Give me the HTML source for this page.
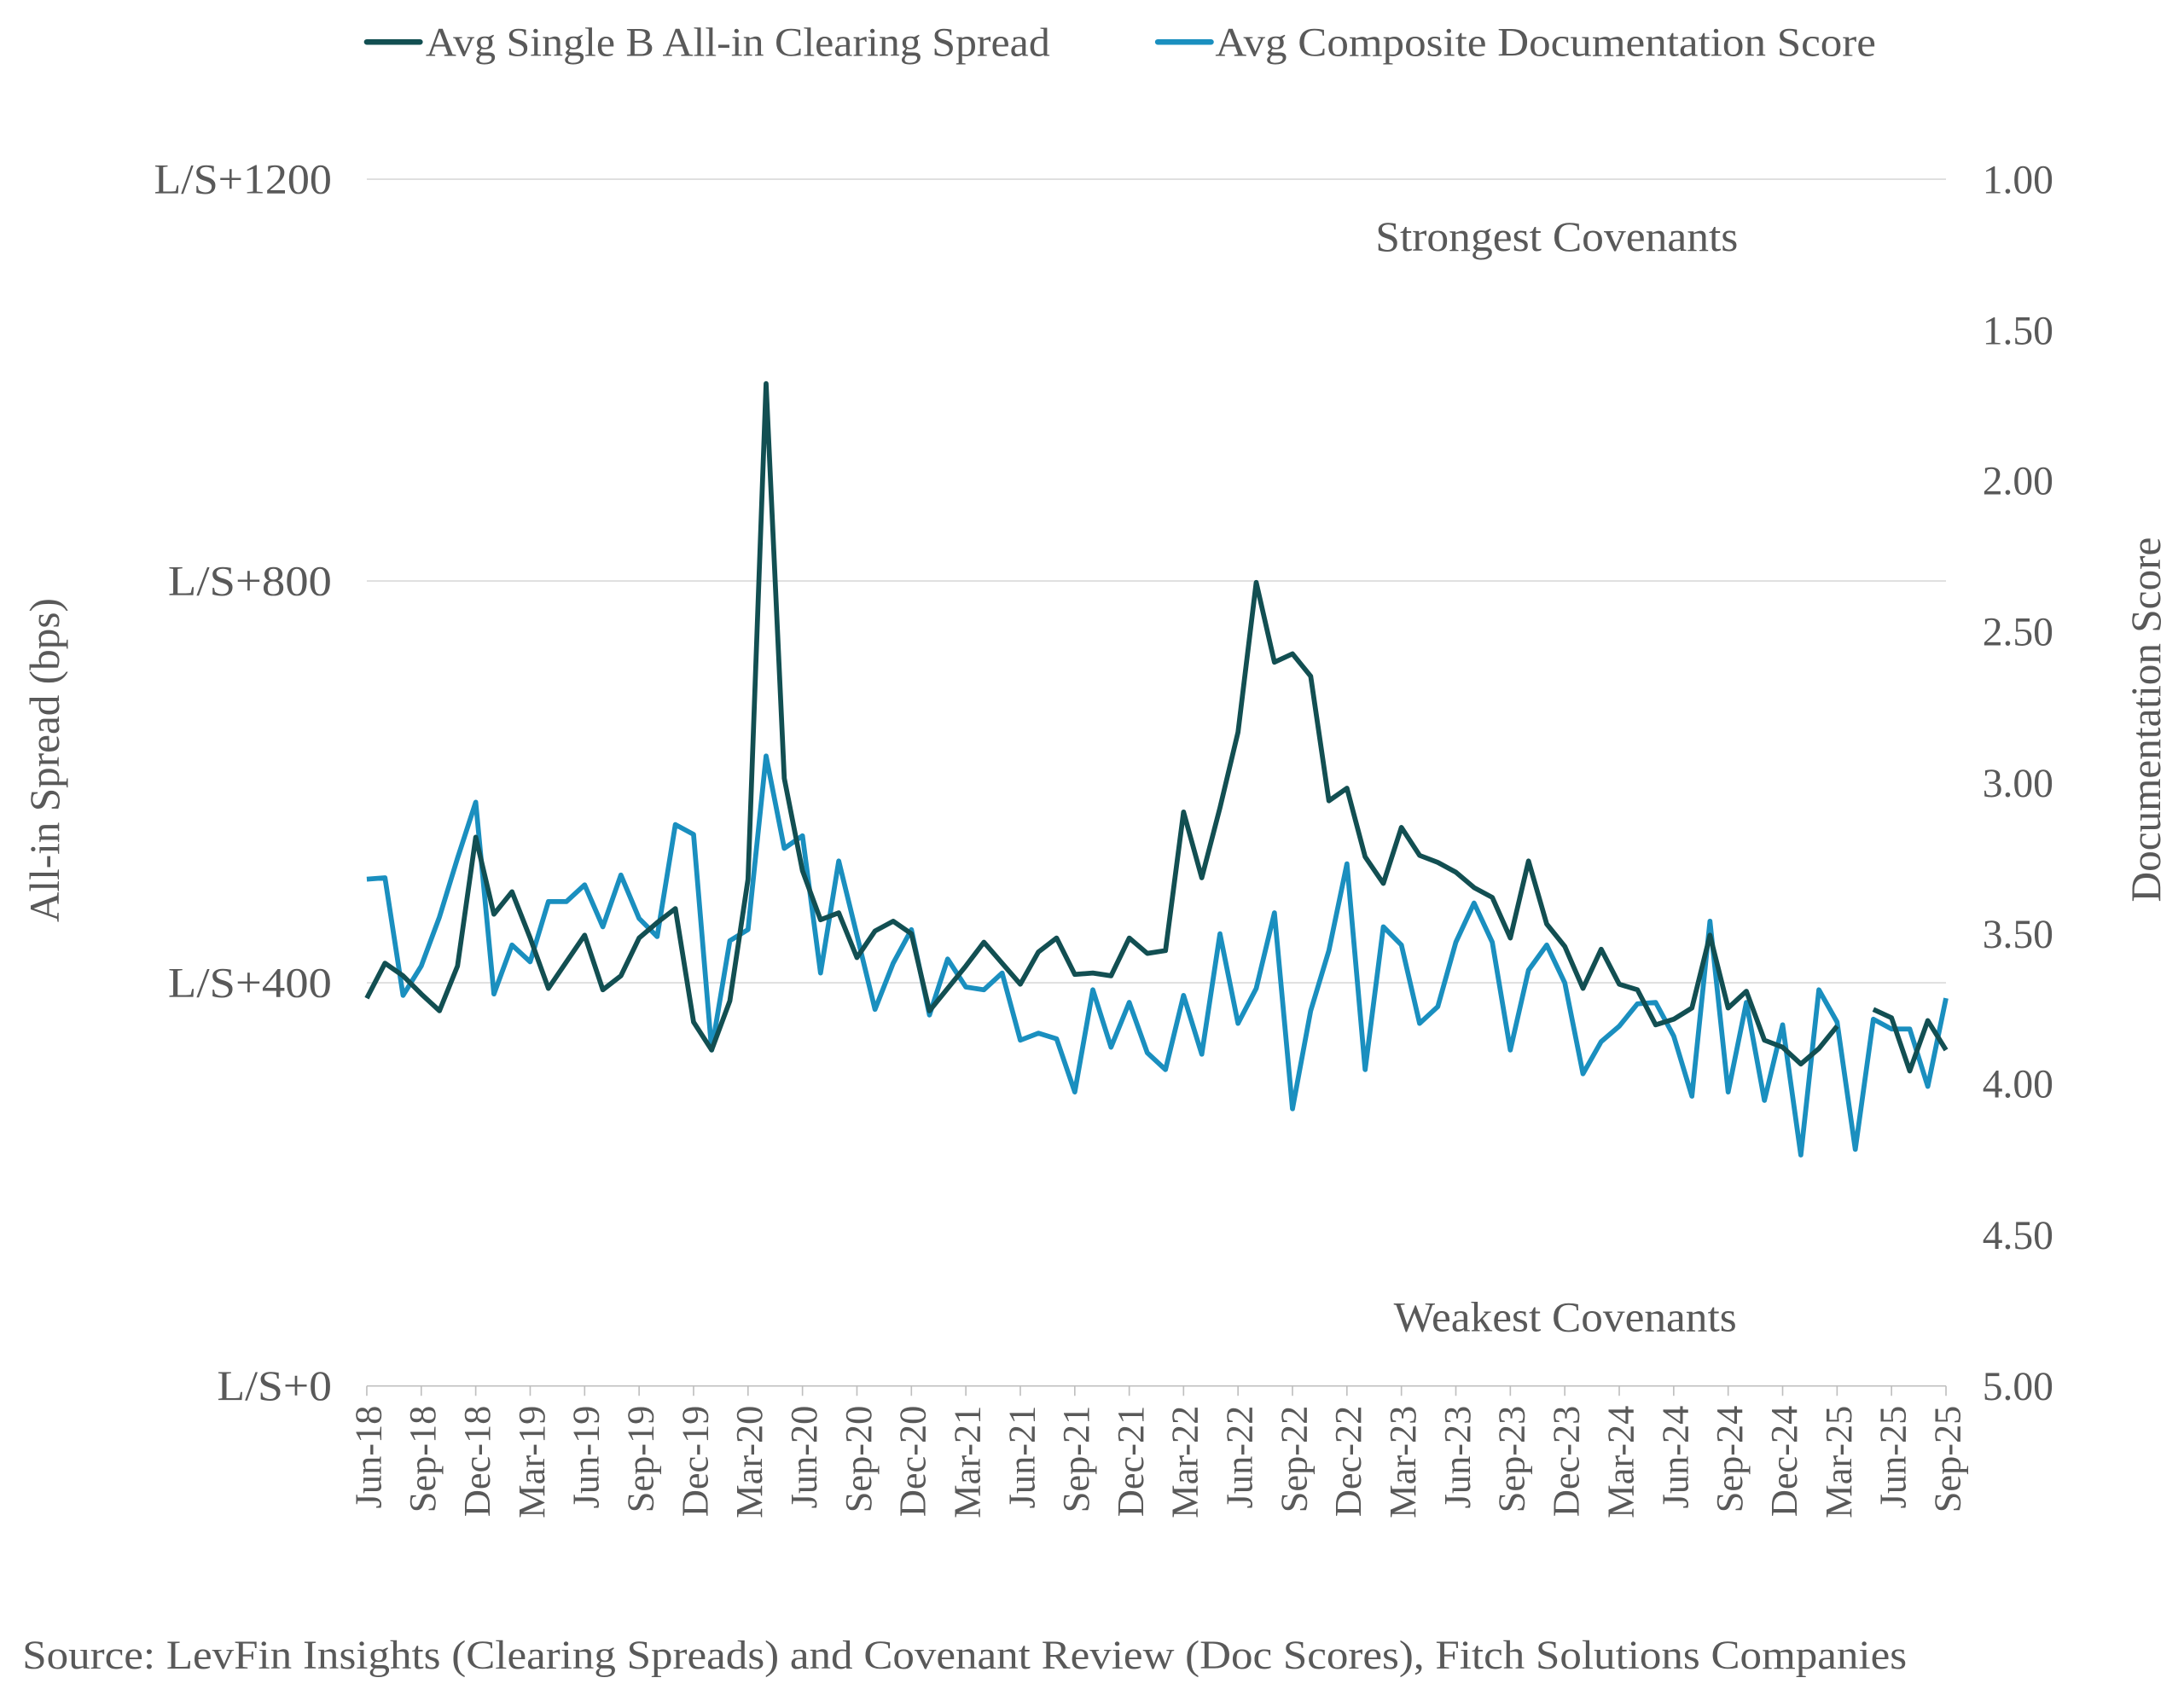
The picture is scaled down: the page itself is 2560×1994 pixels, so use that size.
<!DOCTYPE html>
<html><head><meta charset="utf-8"><style>
html,body{margin:0;padding:0;background:#fff}
svg{display:block}
text{font-family:"Liberation Serif",serif;fill:#595959}
</style></head><body>
<svg width="2560" height="1994" viewBox="0 0 1560 1215" preserveAspectRatio="none" xmlns="http://www.w3.org/2000/svg">
<g stroke="#d9d9d9" stroke-width="1">
<line x1="262" y1="128" x2="1390" y2="128"/>
<line x1="262" y1="415" x2="1390" y2="415"/>
<line x1="262" y1="702" x2="1390" y2="702"/>
</g>
<line x1="262" y1="990" x2="1390" y2="990" stroke="#bfbfbf" stroke-width="1"/>
<g font-size="30" text-anchor="end">
<text x="237" y="138" textLength="127" lengthAdjust="spacingAndGlyphs">L/S+1200</text>
<text x="237" y="425" textLength="117" lengthAdjust="spacingAndGlyphs">L/S+800</text>
<text x="237" y="712" textLength="117" lengthAdjust="spacingAndGlyphs">L/S+400</text>
<text x="237" y="1000" textLength="82" lengthAdjust="spacingAndGlyphs">L/S+0</text>
</g>
<g font-size="29" text-anchor="start">
<text x="1416" y="138">1.00</text>
<text x="1416" y="246">1.50</text>
<text x="1416" y="353">2.00</text>
<text x="1416" y="461">2.50</text>
<text x="1416" y="569">3.00</text>
<text x="1416" y="677">3.50</text>
<text x="1416" y="784">4.00</text>
<text x="1416" y="892">4.50</text>
<text x="1416" y="1000">5.00</text>
</g>
<text x="0" y="0" font-size="30" text-anchor="middle" transform="translate(42,543) rotate(-90)">All-in Spread (bps)</text>
<text x="0" y="0" font-size="30" text-anchor="middle" transform="translate(1543,514) rotate(-90)">Documentation Score</text>
<text x="1112" y="179" font-size="30" text-anchor="middle" textLength="259" lengthAdjust="spacingAndGlyphs">Strongest Covenants</text>
<text x="1118" y="951" font-size="30" text-anchor="middle" textLength="245" lengthAdjust="spacingAndGlyphs">Weakest Covenants</text>
<line x1="262" y1="30" x2="300" y2="30" stroke="#124f52" stroke-width="4" stroke-linecap="round"/>
<text x="304" y="40" font-size="29" textLength="446" lengthAdjust="spacingAndGlyphs">Avg Single B All-in Clearing Spread</text>
<line x1="827" y1="30" x2="865" y2="30" stroke="#1a8fbf" stroke-width="4" stroke-linecap="round"/>
<text x="868" y="40" font-size="29" textLength="472" lengthAdjust="spacingAndGlyphs">Avg Composite Documentation Score</text>
<text x="16" y="1192" font-size="29" textLength="1346" lengthAdjust="spacingAndGlyphs">Source: LevFin Insights (Clearing Spreads) and Covenant Review (Doc Scores), Fitch Solutions Companies</text>
<g stroke="#bfbfbf" stroke-width="1">
<line x1="262" y1="990" x2="262" y2="997"/><line x1="300.9" y1="990" x2="300.9" y2="997"/><line x1="339.8" y1="990" x2="339.8" y2="997"/><line x1="378.7" y1="990" x2="378.7" y2="997"/><line x1="417.6" y1="990" x2="417.6" y2="997"/><line x1="456.5" y1="990" x2="456.5" y2="997"/><line x1="495.4" y1="990" x2="495.4" y2="997"/><line x1="534.3" y1="990" x2="534.3" y2="997"/><line x1="573.2" y1="990" x2="573.2" y2="997"/><line x1="612.1" y1="990" x2="612.1" y2="997"/><line x1="651" y1="990" x2="651" y2="997"/><line x1="689.9" y1="990" x2="689.9" y2="997"/><line x1="728.8" y1="990" x2="728.8" y2="997"/><line x1="767.7" y1="990" x2="767.7" y2="997"/><line x1="806.6" y1="990" x2="806.6" y2="997"/><line x1="845.4" y1="990" x2="845.4" y2="997"/><line x1="884.3" y1="990" x2="884.3" y2="997"/><line x1="923.2" y1="990" x2="923.2" y2="997"/><line x1="962.1" y1="990" x2="962.1" y2="997"/><line x1="1001" y1="990" x2="1001" y2="997"/><line x1="1039.9" y1="990" x2="1039.9" y2="997"/><line x1="1078.8" y1="990" x2="1078.8" y2="997"/><line x1="1117.7" y1="990" x2="1117.7" y2="997"/><line x1="1156.6" y1="990" x2="1156.6" y2="997"/><line x1="1195.5" y1="990" x2="1195.5" y2="997"/><line x1="1234.4" y1="990" x2="1234.4" y2="997"/><line x1="1273.3" y1="990" x2="1273.3" y2="997"/><line x1="1312.2" y1="990" x2="1312.2" y2="997"/><line x1="1351.1" y1="990" x2="1351.1" y2="997"/><line x1="1390" y1="990" x2="1390" y2="997"/>
</g>
<g font-size="27" text-anchor="end">
<text transform="translate(272,1004) rotate(-90)">Jun-18</text>
<text transform="translate(310.9,1004) rotate(-90)">Sep-18</text>
<text transform="translate(349.8,1004) rotate(-90)">Dec-18</text>
<text transform="translate(388.7,1004) rotate(-90)">Mar-19</text>
<text transform="translate(427.6,1004) rotate(-90)">Jun-19</text>
<text transform="translate(466.5,1004) rotate(-90)">Sep-19</text>
<text transform="translate(505.4,1004) rotate(-90)">Dec-19</text>
<text transform="translate(544.3,1004) rotate(-90)">Mar-20</text>
<text transform="translate(583.2,1004) rotate(-90)">Jun-20</text>
<text transform="translate(622.1,1004) rotate(-90)">Sep-20</text>
<text transform="translate(661,1004) rotate(-90)">Dec-20</text>
<text transform="translate(699.9,1004) rotate(-90)">Mar-21</text>
<text transform="translate(738.8,1004) rotate(-90)">Jun-21</text>
<text transform="translate(777.7,1004) rotate(-90)">Sep-21</text>
<text transform="translate(816.6,1004) rotate(-90)">Dec-21</text>
<text transform="translate(855.4,1004) rotate(-90)">Mar-22</text>
<text transform="translate(894.3,1004) rotate(-90)">Jun-22</text>
<text transform="translate(933.2,1004) rotate(-90)">Sep-22</text>
<text transform="translate(972.1,1004) rotate(-90)">Dec-22</text>
<text transform="translate(1011,1004) rotate(-90)">Mar-23</text>
<text transform="translate(1049.9,1004) rotate(-90)">Jun-23</text>
<text transform="translate(1088.8,1004) rotate(-90)">Sep-23</text>
<text transform="translate(1127.7,1004) rotate(-90)">Dec-23</text>
<text transform="translate(1166.6,1004) rotate(-90)">Mar-24</text>
<text transform="translate(1205.5,1004) rotate(-90)">Jun-24</text>
<text transform="translate(1244.4,1004) rotate(-90)">Sep-24</text>
<text transform="translate(1283.3,1004) rotate(-90)">Dec-24</text>
<text transform="translate(1322.2,1004) rotate(-90)">Mar-25</text>
<text transform="translate(1361.1,1004) rotate(-90)">Jun-25</text>
<text transform="translate(1400,1004) rotate(-90)">Sep-25</text>
</g>
<path fill="none" stroke="#1a8fbf" stroke-width="3.5" stroke-linejoin="round" d="M262 628 L275 627 L287.9 711 L300.9 690 L313.9 655 L326.8 613 L339.8 573 L352.8 710 L365.7 675 L378.7 687 L391.7 644 L404.6 644 L417.6 632 L430.6 662 L443.5 625 L456.5 656 L469.4 669 L482.4 589 L495.4 596 L508.3 750 L521.3 672 L534.3 664 L547.2 540 L560.2 606 L573.2 597 L586.1 695 L599.1 615 L612.1 668 L625 721 L638 688 L651 664 L663.9 725 L676.9 685 L689.9 705 L702.8 707 L715.8 695 L728.8 743 L741.7 738 L754.7 742 L767.7 780 L780.6 707 L793.6 748 L806.6 716 L819.5 752 L832.5 764 L845.4 711 L858.4 753 L871.4 667 L884.3 731 L897.3 706 L910.3 652 L923.2 792 L936.2 722 L949.2 679 L962.1 617 L975.1 764 L988.1 662 L1001 675 L1014 731 L1027 719 L1039.9 673 L1052.9 645 L1065.9 673 L1078.8 750 L1091.8 693 L1104.8 675 L1117.7 702 L1130.7 767 L1143.7 744 L1156.6 733 L1169.6 717 L1182.6 716 L1195.5 740 L1208.5 783 L1221.4 658 L1234.4 780 L1247.4 716 L1260.3 786 L1273.3 732 L1286.3 825 L1299.2 707 L1312.2 730 L1325.2 821 L1338.1 728 L1351.1 735 L1364.1 735 L1377 776 L1390 713"/>
<path fill="none" stroke="#124f52" stroke-width="3.5" stroke-linejoin="round" d="M262 713 L275 688 L287.9 697 L300.9 710 L313.9 722 L326.8 690 L339.8 598 L352.8 653 L365.7 637 L378.7 670 L391.7 706 L404.6 687 L417.6 668 L430.6 707 L443.5 697 L456.5 670 L469.4 659 L482.4 649 L495.4 730 L508.3 750 L521.3 715 L534.3 628 L547.2 274 L560.2 556 L573.2 622 L586.1 657 L599.1 652 L612.1 684 L625 665 L638 658 L651 667 L663.9 722 L676.9 706 L689.9 690 L702.8 673 L715.8 688 L728.8 703 L741.7 680 L754.7 670 L767.7 696 L780.6 695 L793.6 697 L806.6 670 L819.5 681 L832.5 679 L845.4 580 L858.4 627 L871.4 577 L884.3 523 L897.3 416 L910.3 473 L923.2 467 L936.2 483 L949.2 572 L962.1 563 L975.1 612 L988.1 631 L1001 591 L1014 611 L1027 616 L1039.9 623 L1052.9 634 L1065.9 641 L1078.8 670 L1091.8 615 L1104.8 660 L1117.7 676 L1130.7 706 L1143.7 678 L1156.6 703 L1169.6 707 L1182.6 732 L1195.5 728 L1208.5 720 L1221.4 668 L1234.4 720 L1247.4 708 L1260.3 743 L1273.3 748 L1286.3 760 L1299.2 749 L1312.2 733 M1338.1 721 L1351.1 727 L1364.1 765 L1377 729 L1390 750"/>
</svg>
</body></html>
